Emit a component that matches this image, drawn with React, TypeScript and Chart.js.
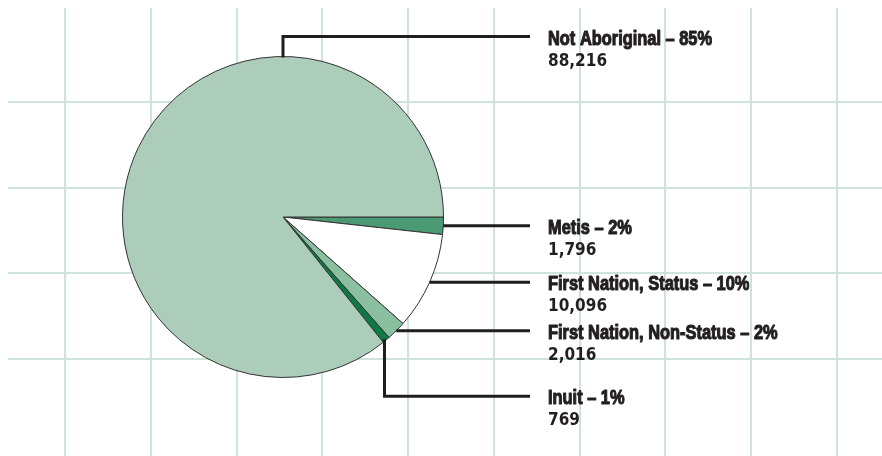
import React, { useEffect, useRef } from "react";
import { Chart, registerables } from "chart.js";

Chart.register(...registerables);

const categories = ["Metis", "First Nation, Status", "First Nation, Non-Status", "Inuit", "Not Aboriginal"];
const counts = [1796, 10096, 2016, 769, 88216];
const percents = [2, 10, 2, 1, 85];
const sliceColors = ["#4a9a74", "#ffffff", "#8abfa0", "#0b7a44", "#adcdbb"];
const leaderKinds = ["straight", "straight", "straight", "down", "up"];

const W = 874;
const H = 448;

const gridPlugin = {
  id: "bgGrid",
  beforeDraw(chart: any) {
    const ctx = chart.ctx as CanvasRenderingContext2D;
    ctx.save();
    ctx.fillStyle = "#ffffff";
    ctx.fillRect(0, 0, chart.width, chart.height);
    ctx.strokeStyle = "#cfe4d8";
    ctx.lineWidth = 2;
    for (let x = 57; x < chart.width; x += 85.75) {
      const xx = Math.round(x);
      ctx.beginPath();
      ctx.moveTo(xx, 0);
      ctx.lineTo(xx, chart.height);
      ctx.stroke();
    }
    for (let y = 94; y < 400; y += 85.5) {
      const yy = Math.round(y);
      ctx.beginPath();
      ctx.moveTo(0, yy);
      ctx.lineTo(chart.width, yy);
      ctx.stroke();
    }
    ctx.restore();
  },
};

const labelPlugin = {
  id: "leaderLabels",
  afterDatasetsDraw(chart: any) {
    const ctx = chart.ctx as CanvasRenderingContext2D;
    const meta = chart.getDatasetMeta(0);
    const lineEndX = 522;
    const textX = 540;
    ctx.save();
    meta.data.forEach((arc: any, i: number) => {
      const p = arc.getProps(["x", "y", "startAngle", "endAngle", "outerRadius"], true);
      const kind = leaderKinds[i];
      let ang = kind === "up" ? -Math.PI / 2 : (p.startAngle + p.endAngle) / 2;
      if (kind === "down") ang = p.endAngle - 0.01;
      const ax = p.x + p.outerRadius * Math.cos(ang);
      const ay = p.y + p.outerRadius * Math.sin(ang);
      let lineY = ay;
      ctx.strokeStyle = "#1e1e1e";
      ctx.lineWidth = 3;
      ctx.lineCap = "butt";
      ctx.lineJoin = "miter";
      ctx.beginPath();
      if (kind === "straight") {
        ctx.moveTo(ax, lineY);
        ctx.lineTo(lineEndX, lineY);
      } else if (kind === "down") {
        lineY = ay + 55;
        ctx.moveTo(ax, ay - 2);
        ctx.lineTo(ax, lineY);
        ctx.lineTo(lineEndX, lineY);
      } else {
        lineY = ay - 20;
        ctx.moveTo(ax, ay + 1);
        ctx.lineTo(ax, lineY);
        ctx.lineTo(lineEndX, lineY);
      }
      ctx.stroke();

      ctx.fillStyle = "#231f20";
      ctx.strokeStyle = "#231f20";
      ctx.lineJoin = "round";
      ctx.textAlign = "left";
      ctx.textBaseline = "alphabetic";
      const title = `${categories[i]} \u2013 ${percents[i]}%`;
      ctx.save();
      ctx.translate(textX, lineY + 8);
      ctx.scale(0.82, 1);
      ctx.font = "bold 20px 'Liberation Sans', Arial, sans-serif";
      ctx.lineWidth = 1.1;
      ctx.fillText(title, 0, 0);
      ctx.strokeText(title, 0, 0);
      ctx.restore();
      const num = counts[i].toLocaleString("en-US");
      ctx.font = "bold 17px 'DejaVu Sans Condensed', 'DejaVu Sans', sans-serif";
      ctx.fillText(num, textX, lineY + 29);
    });
    ctx.restore();
  },
};

export default function App() {
  const ref = useRef<HTMLCanvasElement | null>(null);
  useEffect(() => {
    if (!ref.current) return;
    const chart = new Chart(ref.current, {
      type: "pie",
      data: {
        labels: categories,
        datasets: [
          {
            data: counts,
            backgroundColor: sliceColors,
            borderColor: "#333333",
            borderWidth: 1,
          },
        ],
      },
      options: {
        animation: false,
        responsive: true,
        maintainAspectRatio: false,
        rotation: 90,
        layout: { padding: { left: 114, top: 48, right: W - 114 - 322, bottom: H - 48 - 322 } },
        plugins: { legend: { display: false }, tooltip: { enabled: false } },
        events: [],
      },
      plugins: [gridPlugin, labelPlugin],
    });
    return () => chart.destroy();
  }, []);
  return (
    <div style={{ position: "fixed", left: 8, top: 8, width: W, height: H }}>
      <canvas ref={ref} />
    </div>
  );
}
